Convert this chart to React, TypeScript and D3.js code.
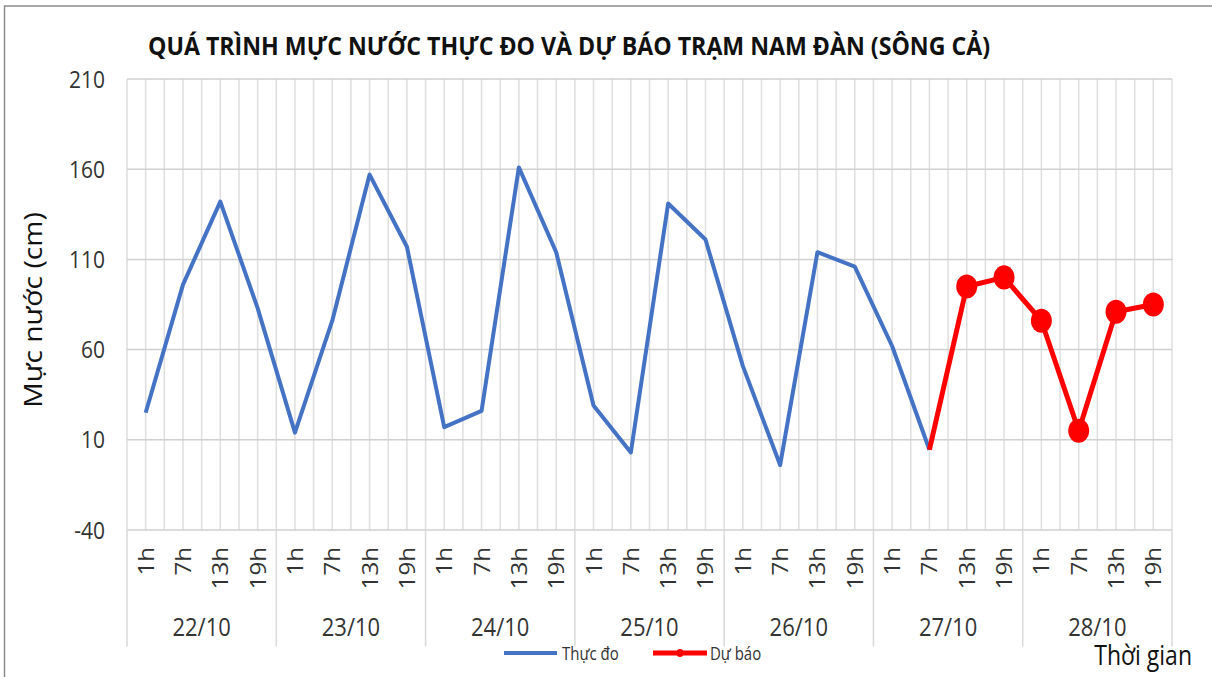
import React from "react";
import * as d3 from "d3";

// chart data
const days = ["22/10", "23/10", "24/10", "25/10", "26/10", "27/10", "28/10"];
const hours = ["1h", "7h", "13h", "19h"];
const observed = [
  25, 96, 142, 83, 14, 76, 157, 117, 17, 26, 161, 114, 29, 3, 141, 121, 51, -4,
  114, 106, 62, 4.5,
];
const forecast: (number | null)[] = [
  null, null, null, null, null, null, null, null, null, null, null, null, null,
  null, null, null, null, null, null, null, null, 4.5, 95, 100, 76, 15, 81, 85,
];
const yTicks = [-40, 10, 60, 110, 160, 210];

const W = 1212;
const H = 677;
const SY = 1.15; // the reference picture is stretched vertically
const VH = H / SY;
const v = (py: number) => py / SY;

const left = 127;
const right = 1172;
const top = 79;
const bottom = 530;
const catBottom = 646.5;
const font = "'Open Sans', sans-serif";

const App = () => {
  const cats = days.flatMap((d) => hours.map((h) => `${d} ${h}`));
  const x = d3.scaleBand<string>().domain(cats).range([left, right]);
  const bw = x.bandwidth();
  const cx = (i: number) => (x(cats[i]) as number) + bw / 2;
  const y = d3.scaleLinear().domain([-40, 210]).range([v(bottom), v(top)]);

  const line = d3
    .line<number | null>()
    .defined((d) => d != null)
    .x((_, i) => cx(i))
    .y((d) => y(d as number));

  const halfGrid = d3.range(cats.length * 2 + 1).map((k) => left + (k * bw) / 2);
  const dayEdges = d3.range(days.length + 1).map((k) => left + k * 4 * bw);
  const ns = { vectorEffect: "non-scaling-stroke" } as any;

  return (
    <svg
      width={W}
      height={H}
      viewBox={`0 0 ${W} ${VH}`}
      preserveAspectRatio="none"
      style={{ position: "absolute", left: 0, top: 0, background: "#fff" }}
      fontFamily={font}
    >
      <rect x={4.5} y={v(6)} width={1400} height={1000} fill="#fff" stroke="#8c8c8c" strokeWidth={1.5} {...ns} />

      <text
        x={569}
        y={v(55)}
        textAnchor="middle"
        fontWeight="bold"
        fontSize={21}
        textLength={842}
        lengthAdjust="spacingAndGlyphs"
        fill="#111"
      >
        QUÁ TRÌNH MỰC NƯỚC THỰC ĐO VÀ DỰ BÁO TRẠM  NAM ĐÀN (SÔNG CẢ)
      </text>

      {/* vertical gridlines */}
      {halfGrid.map((gx, i) => (
        <line key={"vg" + i} x1={gx} x2={gx} y1={v(top)} y2={v(bottom)} stroke="#dedede" strokeWidth={1.5} {...ns} />
      ))}
      {/* horizontal gridlines */}
      {yTicks.map((t) => (
        <line key={"hg" + t} x1={left} x2={right} y1={y(t)} y2={y(t)} stroke="#d0d0d0" strokeWidth={1.5} {...ns} />
      ))}
      {/* category axis separators */}
      {dayEdges.map((gx, i) => (
        <line key={"de" + i} x1={gx} x2={gx} y1={v(bottom)} y2={v(catBottom)} stroke="#d9d9d9" strokeWidth={1.5} {...ns} />
      ))}

      {yTicks.map((t) => (
        <text key={"yt" + t} x={105} y={y(t)} dy="0.36em" textAnchor="end" fontSize={21} fill="#333">
          {t}
        </text>
      ))}
      <text
        transform={`translate(42,${v(310)}) rotate(-90)`}
        textAnchor="middle"
        fontSize={25}
        textLength={170}
        lengthAdjust="spacingAndGlyphs"
        fill="#111"
      >
        Mực nước (cm)
      </text>

      {cats.map((c, i) => (
        <text
          key={"xt" + i}
          transform={`translate(${cx(i)},${v(547)}) rotate(-90)`}
          dy="0.38em"
          textAnchor="end"
          fontSize={21}
          fill="#333"
        >
          {hours[i % 4]}
        </text>
      ))}
      {days.map((d, k) => (
        <text key={"dl" + d} x={left + (k * 4 + 2) * bw} y={v(636.5)} textAnchor="middle" fontSize={22} fill="#333">
          {d}
        </text>
      ))}

      <path d={line(observed) || ""} fill="none" stroke="#4472C4" strokeWidth={4} strokeLinejoin="round" {...ns} />
      <path d={line(forecast) || ""} fill="none" stroke="#FF0000" strokeWidth={5} strokeLinejoin="round" {...ns} />
      {forecast.map((d, i) =>
        d != null && i >= observed.length ? (
          <circle key={"m" + i} cx={cx(i)} cy={y(d)} r={10.5} fill="#FF0000" />
        ) : null
      )}

      {/* legend */}
      <line x1={504} x2={557} y1={v(653)} y2={v(653)} stroke="#4472C4" strokeWidth={4} {...ns} />
      <text x={562} y={v(660)} fontSize={15} fill="#333">Thực đo</text>
      <line x1={653} x2={707} y1={v(653)} y2={v(653)} stroke="#FF0000" strokeWidth={5} {...ns} />
      <circle cx={680} cy={v(653)} r={3.5} fill="#FF0000" />
      <text x={710} y={v(660)} fontSize={15} fill="#333">Dự báo</text>

      <text x={1192} y={v(665)} textAnchor="end" fontSize={23} fill="#111">
        Thời gian
      </text>
    </svg>
  );
};

export default App;
